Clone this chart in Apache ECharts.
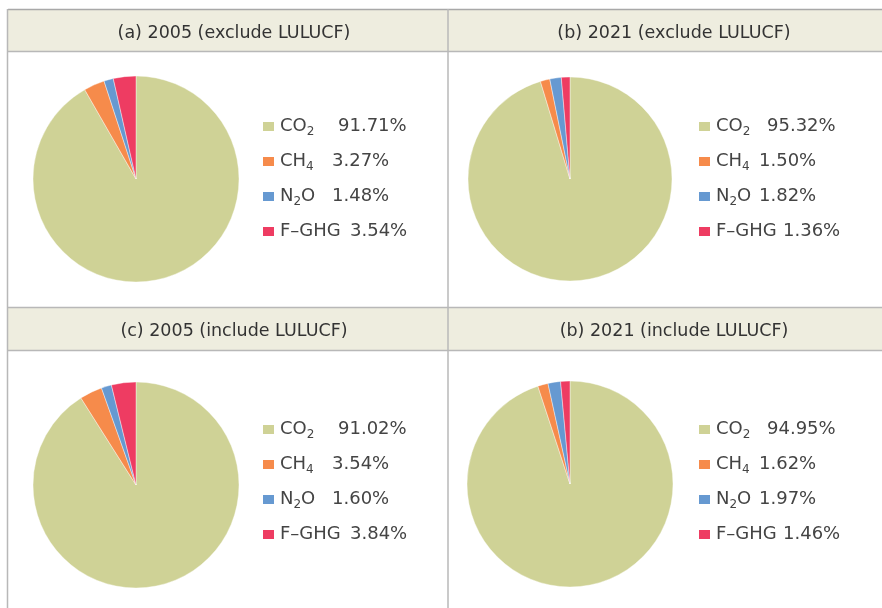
<!DOCTYPE html>
<html><head><meta charset="utf-8">
<script src="https://cdn.jsdelivr.net/npm/echarts@6/dist/echarts.min.js"></script>
<style>html,body{margin:0;padding:0;background:#fff}#c{width:882px;height:608px}</style>
</head><body><div id="c"></div>
<script>
const gasNames = ['CO2', 'CH4', 'N2O', 'F-GHG'];
const panelTitles = ['(a) 2005 (exclude LULUCF)', '(b) 2021 (exclude LULUCF)', '(c) 2005 (include LULUCF)', '(b) 2021 (include LULUCF)'];
const shares2005Exclude = [91.71, 3.27, 1.48, 3.54];
const shares2021Exclude = [95.32, 1.50, 1.82, 1.36];
const shares2005Include = [91.02, 3.54, 1.60, 3.84];
const shares2021Include = [94.95, 1.62, 1.97, 1.46];

const panelData = [shares2005Exclude, shares2021Exclude, shares2005Include, shares2021Include];
const colors = ['#cfd296', '#f68b4b', '#6699d1', '#ee3c62'];
const FONT = 'DejaVu Sans';
const FS = 18, SFS = 12;

const layout = [
  {cx: 136, cy: 179, r: 103, lx: 256, ly: 110, tx: 229, ty: 30, off: [58, 52, 52, 70]},
  {cx: 570, cy: 179, r: 102, lx: 692, ly: 110, tx: 669, ty: 30, off: [51, 43, 43, 67]},
  {cx: 136, cy: 485, r: 103, lx: 256, ly: 413, tx: 229, ty: 328, off: [58, 52, 52, 70]},
  {cx: 570, cy: 484, r: 103, lx: 692, ly: 413, tx: 669, ty: 328, off: [51, 43, 43, 67]}
];

const ctx = document.createElement('canvas').getContext('2d');
function tw(t, fs) { ctx.font = fs + 'px "' + FONT + '"'; return ctx.measureText(t).width; }

const nameParts = {
  'CO2': [['CO', 'n'], ['2', 's']],
  'CH4': [['CH', 'n'], ['4', 's']],
  'N2O': [['N', 'n'], ['2', 's'], ['O', 'n']],
  'F-GHG': [['F–GHG', 'n']]
};

const lineColor = '#b8b8b8';
const graphic = [
  {type: 'rect', shape: {x: 8, y: 10, width: 874, height: 42}, style: {fill: '#eeeddf'}, silent: true},
  {type: 'rect', shape: {x: 8, y: 308, width: 874, height: 43}, style: {fill: '#eeeddf'}, silent: true},
  {type: 'line', shape: {x1: 8, y1: 9.5, x2: 882, y2: 9.5}, style: {stroke: '#a8a8a8', lineWidth: 1.5}, silent: true},
  {type: 'line', shape: {x1: 8, y1: 51.5, x2: 882, y2: 51.5}, style: {stroke: lineColor, lineWidth: 1.5}, silent: true},
  {type: 'line', shape: {x1: 8, y1: 307.5, x2: 882, y2: 307.5}, style: {stroke: lineColor, lineWidth: 1.5}, silent: true},
  {type: 'line', shape: {x1: 8, y1: 350.5, x2: 882, y2: 350.5}, style: {stroke: lineColor, lineWidth: 1.5}, silent: true},
  {type: 'line', shape: {x1: 7.5, y1: 9, x2: 7.5, y2: 608}, style: {stroke: lineColor, lineWidth: 1.5}, silent: true},
  {type: 'line', shape: {x1: 448, y1: 9, x2: 448, y2: 608}, style: {stroke: lineColor, lineWidth: 1.5}, silent: true}
];

const title = panelTitles.map((t, i) => ({
  text: t, left: layout[i].tx, top: layout[i].ty - 11, textAlign: 'center',
  textStyle: {fontFamily: FONT, fontSize: 17.5, fontWeight: 'normal', color: '#333'}
}));

const legend = panelData.map((vals, i) => {
  const rich = {
    n: {fontFamily: FONT, fontSize: FS, color: '#444', lineHeight: 24},
    s: {fontFamily: FONT, fontSize: SFS, color: '#444', lineHeight: 24, padding: [11, 0, 0, 0]}
  };
  gasNames.forEach((name, k) => {
    let w = 0;
    nameParts[name].forEach(p => { w += tw(p[0], p[1] === 's' ? SFS : FS); });
    rich['g' + k] = {fontFamily: FONT, fontSize: SFS, lineHeight: 24, padding: [11, 0, 0, 0],
                     width: Math.max(4, layout[i].off[k] - w)};
  });
  return {
    orient: 'vertical', left: layout[i].lx, top: layout[i].ly,
    itemWidth: 13, itemHeight: 11, itemGap: 12, icon: 'rect',
    selectedMode: false,
    data: gasNames,
    formatter: function (name) {
      const k = gasNames.indexOf(name);
      let s = '';
      nameParts[name].forEach(p => { s += '{' + p[1] + '|' + p[0] + '}'; });
      return s + '{g' + k + '|\u00a0}{n|' + vals[k].toFixed(2) + '%}';
    },
    textStyle: {fontFamily: FONT, color: '#444', fontSize: FS, rich: rich}
  };
});

const series = panelData.map((vals, i) => ({
  type: 'pie',
  center: [layout[i].cx, layout[i].cy],
  radius: [0, layout[i].r],
  startAngle: 90, clockwise: true,
  label: {show: false}, labelLine: {show: false},
  emphasis: {disabled: true},
  itemStyle: {borderColor: '#ffffff', borderWidth: 0.4},
  data: gasNames.map((n, k) => ({name: n, value: vals[k]}))
}));

const chart = echarts.init(document.getElementById('c'), null, {renderer: 'canvas'});
chart.setOption({
  animation: false,
  color: colors,
  graphic: graphic,
  title: title,
  legend: legend,
  series: series
});
</script></body></html>
